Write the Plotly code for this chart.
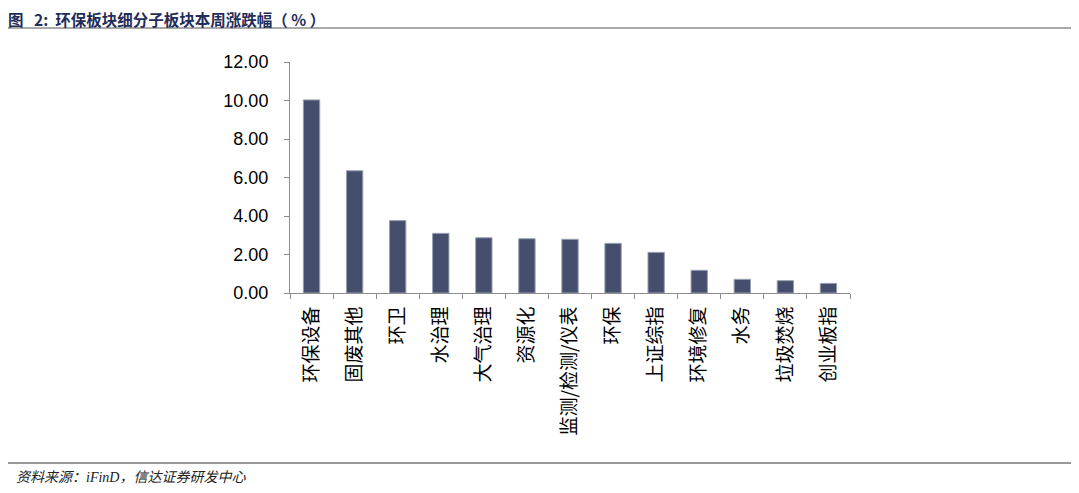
import plotly.graph_objects as go

categories = ["环保设备", "固废其他", "环卫", "水治理", "大气治理", "资源化",
              "监测/检测/仪表", "环保", "上证综指", "环境修复", "水务", "垃圾焚烧", "创业板指"]
weekly_change = [10.03, 6.35, 3.76, 3.10, 2.87, 2.82, 2.79, 2.58, 2.11, 1.18, 0.71, 0.64, 0.50]
y_ticks = [0, 2, 4, 6, 8, 10, 12]
y_tick_labels = ["0.00", "2.00", "4.00", "6.00", "8.00", "10.00", "12.00"]

# page body has an 8px margin, so work in reference pixels minus 8
OFF = 8
W, H = 1079 - 2 * OFF, 493 - 2 * OFF
L, R, T, B = 290 - OFF, 850 - OFF, 62 - OFF, 293 - OFF  # plot area


def px(x):
    return (x - OFF - L) / (R - L)


def py(y):
    return (B - (y - OFF)) / (B - T)


fig = go.Figure()
fig.add_trace(go.Bar(x=categories, y=weekly_change,
                     marker=dict(color="#464e6e", line=dict(color="#9aa0b4", width=1)),
                     width=0.38))

title = "<b>图&nbsp;&nbsp;&nbsp;2:&nbsp;&nbsp;环保板块细分子板块本周涨跌幅（&nbsp;%&nbsp;）</b>"

fig.update_layout(
    width=W, height=H,
    margin=dict(l=L, r=W - R, t=T, b=H - B, autoexpand=False),
    paper_bgcolor="white", plot_bgcolor="white",
    showlegend=False,
    font=dict(family="Noto Sans CJK SC", color="black"),
    xaxis=dict(showline=True, linecolor="#8c8c8c", linewidth=1, automargin=False,
               ticks="outside", tickson="boundaries", ticklen=5, tickcolor="#8c8c8c",
               ticklabelstandoff=5,
               tickangle=-90, tickfont=dict(size=19, family="Noto Sans CJK SC", color="black")),
    yaxis=dict(range=[0, 12], tickvals=y_ticks, ticktext=y_tick_labels, automargin=False,
               showline=True, linecolor="#8c8c8c", linewidth=1, showgrid=False, zeroline=False,
               ticks="outside", ticklen=5, tickcolor="#8c8c8c", ticklabelstandoff=12,
               tickfont=dict(size=18, family="Liberation Sans", color="black")),
    shapes=[
        dict(type="line", xref="paper", yref="paper", x0=px(8), x1=px(1073), y0=py(28), y1=py(28),
             line=dict(color="#555555", width=1)),
        dict(type="line", xref="paper", yref="paper", x0=px(8), x1=px(1073), y0=py(463), y1=py(463),
             line=dict(color="#333333", width=1)),
    ],
    annotations=[
        dict(text=title, xref="paper", yref="paper",
             x=px(6), y=py(18.5), xanchor="left", yanchor="middle", showarrow=False,
             font=dict(size=15.5, color="#1f2d5a", family="Noto Sans CJK SC")),
        dict(text="<i>资料来源：iFinD，信达证券研发中心</i>", xref="paper", yref="paper",
             x=px(14), y=py(477), xanchor="left", yanchor="middle", showarrow=False,
             font=dict(size=14, color="#222222", family="Liberation Serif, Noto Sans CJK SC")),
    ],
)

fig.write_html("out.html")
